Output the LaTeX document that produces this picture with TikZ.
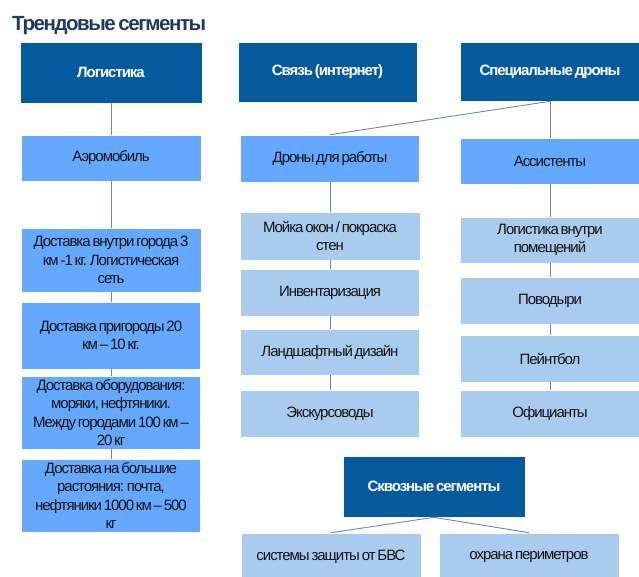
\documentclass[tikz,border=0pt]{standalone}
\usepackage{fontspec}
\setmainfont{Liberation Sans}[LetterSpace=-7,WordSpace=0.6]
\definecolor{navy}{RGB}{31,56,100}
\definecolor{dark}{RGB}{5,90,158}
\definecolor{mid}{RGB}{100,168,255}
\definecolor{light}{RGB}{169,204,238}
\definecolor{conn}{RGB}{110,132,172}
\definecolor{txt}{RGB}{20,20,20}
\begin{document}
\begin{tikzpicture}[x=1pt,y=-1pt,
  base/.style={rectangle,inner sep=2pt,align=center,draw=white,line width=0.6pt,
    font=\fontsize{15}{18.5}\selectfont},
  hdr/.style={base,fill=dark,text=white,font=\fontsize{15}{18.5}\selectfont\bfseries},
  midbox/.style={base,fill=mid,text=txt},
  litbox/.style={base,fill=light,text=txt},
  link/.style={draw=conn,line width=0.9pt}]
\useasboundingbox (0,0) rectangle (639,576);
\clip (0,0) rectangle (639,576);
\node[anchor=base west,text=navy,font=\fontsize{20.5}{22}\selectfont\bfseries,inner sep=0] (title) at (12,30) {Трендовые сегменты};
% headers
\node[hdr,minimum width=182,minimum height=61] (log) at (111,72.5) {Логистика};
\node[hdr,minimum width=179,minimum height=60] (svz) at (327.5,72) {Связь (интернет)};
\node[hdr,minimum width=180,minimum height=59] (spec) at (550,71.5) {Специальные дроны};
\node[hdr,minimum width=182,minimum height=61] (skv) at (434,486.5) {Сквозные сегменты};
% logistics column
\node[midbox,minimum width=180,minimum height=46] (aero) at (111,158) {Аэромобиль};
\node[midbox,minimum width=180,minimum height=64] (d1) at (111,260) {Доставка внутри города 3\\км -1 кг. Логистическая\\сеть};
\node[midbox,minimum width=179,minimum height=67] (d2) at (111,335.5) {Доставка пригороды 20\\км – 10 кг.};
\node[midbox,minimum width=179,minimum height=73] (d3) at (111,412.5) {Доставка оборудования:\\моряки, нефтяники.\\Между городами 100 км –\\20 кг};
\node[midbox,minimum width=179,minimum height=73] (d4) at (111,495.5) {Доставка на большие\\растояния: почта,\\нефтяники 1000 км – 500\\кг};
% work drones column
\node[midbox,minimum width=179,minimum height=47] (drw) at (330,158.5) {Дроны для работы};
\node[litbox,minimum width=180,minimum height=48] (m1) at (330,236) {Мойка окон / покраска\\стен};
\node[litbox,minimum width=179,minimum height=47] (m2) at (330,292.5) {Инвентаризация};
\node[litbox,minimum width=179,minimum height=46] (m3) at (330,352) {Ландшафтный дизайн};
\node[litbox,minimum width=179,minimum height=47] (m4) at (330,413.5) {Экскурсоводы};
% assistants column
\node[midbox,minimum width=180,minimum height=46] (ass) at (550,161) {Ассистенты};
\node[litbox,minimum width=180,minimum height=46] (a1) at (550,240) {Логистика внутри\\помещений};
\node[litbox,minimum width=180,minimum height=47] (a2) at (550,300.5) {Поводыри};
\node[litbox,minimum width=180,minimum height=47] (a3) at (550,358.5) {Пейнтбол};
\node[litbox,minimum width=180,minimum height=47] (a4) at (550,413.5) {Официанты};
% cross segments
\node[litbox,minimum width=180,minimum height=48] (s1) at (331,557) {системы защиты от БВС};
\node[litbox,minimum width=180,minimum height=48] (s2) at (529,557) {охрана периметров};
% connectors
\draw[link] (log.south) -- (aero.north);
\draw[link] (aero.south) -- (d1.north);
\draw[link] (d1.south) -- (d2.north);
\draw[link] (d2.south) -- (d3.north);
\draw[link] (d3.south) -- (d4.north);
\draw[link] (spec.south) -- (drw.north);
\draw[link] (spec.south) -- (ass.north);
\draw[link] (drw.south) -- (m1.north);
\draw[link] (m1.south) -- (m2.north);
\draw[link] (m2.south) -- (m3.north);
\draw[link] (m3.south) -- (m4.north);
\draw[link] (ass.south) -- (a1.north);
\draw[link] (a1.south) -- (a2.north);
\draw[link] (a2.south) -- (a3.north);
\draw[link] (a3.south) -- (a4.north);
\draw[link] (skv.south) -- (s1.north);
\draw[link] (skv.south) -- (s2.north);
\end{tikzpicture}
\end{document}
